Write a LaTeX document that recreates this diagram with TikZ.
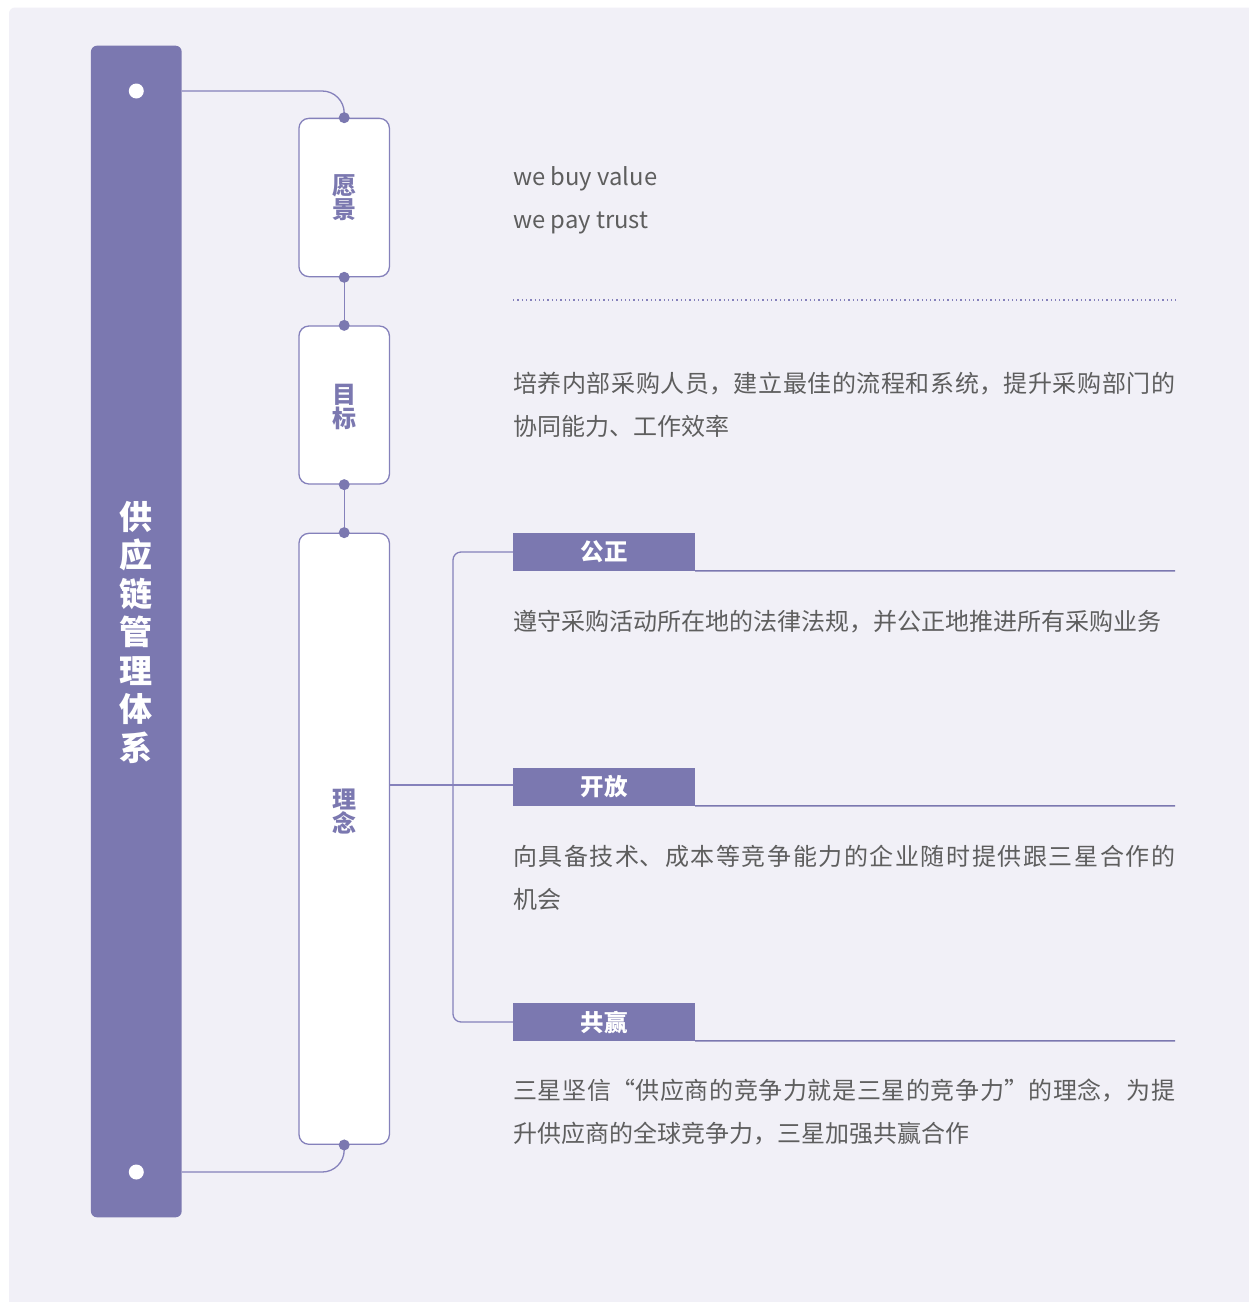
\documentclass[tikz,border=0pt]{standalone}
\usepackage{fontspec}
\setmainfont{Noto Sans CJK SC}
\XeTeXlinebreaklocale "zh"
\XeTeXlinebreakskip=0pt plus 10pt
\definecolor{bgl}{HTML}{F1F0F7}
\definecolor{pur}{HTML}{7B78B0}
\definecolor{lnk}{HTML}{8581BB}
\definecolor{txt}{HTML}{5E5E5E}
\begin{document}
\begin{tikzpicture}[x=1pt,y=-1pt,
  conn/.style={draw=lnk, line width=1.3pt},
  pbox/.style={draw=lnk, line width=1.3pt, fill=white, rounded corners=10pt, minimum width=90.5pt, inner sep=0pt},
  pdot/.style={circle, fill=pur, minimum size=11pt, inner sep=0pt},
  wdot/.style={circle, fill=white, minimum size=15pt, inner sep=0pt},
  tabbox/.style={fill=pur, minimum width=182pt, minimum height=37.5pt, inner sep=0pt, text=white, font=\bfseries\fontsize{23.5pt}{23.5pt}\selectfont},
  tabline/.style={draw=pur, line width=1.5pt},
  para/.style={text=txt, text width=662pt, align=justify, inner sep=0pt, font=\fontsize{24pt}{43pt}\selectfont},
  entext/.style={text=txt, inner sep=0pt, font=\fontsize{23.8pt}{43pt}\selectfont},
  boxlab/.style={text=pur, align=center, inner sep=0pt, font=\bfseries\fontsize{24pt}{24pt}\selectfont}
]
\useasboundingbox (0,0) rectangle (1249,1302);
\fill[white] (0,0) rectangle (1249,1302);
\fill[bgl] (1249,1302) -- (9,1302) [rounded corners=6pt] -- (9,7.5) [sharp corners] -- (1249,7.5) -- cycle;

% left bar
\node[fill=pur, rounded corners=6pt, minimum width=90.7pt, minimum height=1171.6pt, inner sep=0pt] (bar) at (136.3,631.5) {};
\node[text=white, align=center, inner sep=0pt, font=\bfseries\fontsize{33pt}{38.5pt}\selectfont] (title) at (136.3,632) {供\\应\\链\\管\\理\\体\\系};
\node[wdot] (d1) at (136.3,91) {};
\node[wdot] (d2) at (136.3,1172) {};

% boxes
\node[pbox, minimum height=158.3pt] (box1) at (344.2,197.5) {};
\node[pbox, minimum height=158pt] (box2) at (344.2,405) {};
\node[pbox, minimum height=611pt] (box3) at (344.2,838.8) {};
\node[boxlab] (l1) at (box1.center) {愿\\景};
\node[boxlab] (l2) at (344.2,406.5) {目\\标};
\node[boxlab] (l3) at (344.2,812) {理\\念};

% tabs
\node[tabbox] (t1) at (604,552) {公正};
\node[tabbox] (t2) at (604,787) {开放};
\node[tabbox] (t3) at (604,1022) {共赢};

% connectors
\coordinate (fork) at (453,785);
\draw[conn, rounded corners=22pt] (d1 -| bar.east) -| (box1.north);
\draw[conn] (box1.south) -- (box2.north);
\draw[conn] (box2.south) -- (box3.north);
\draw[conn, rounded corners=22pt] (box3.south) |- (d2 -| bar.east);
\draw[conn] (box3.east |- fork) -- (t2.west |- fork);
\draw[conn, rounded corners=8pt] (t1.west) -- (fork |- t1.west) -- (fork |- t3.west) -- (t3.west);

\node[pdot] (p1) at (box1.north) {};
\node[pdot] (p2) at (box1.south) {};
\node[pdot] (p3) at (box2.north) {};
\node[pdot] (p4) at (box2.south) {};
\node[pdot] (p5) at (box3.north) {};
\node[pdot] (p6) at (box3.south) {};

% tab lines
\coordinate (e1) at (1175,570.75);
\coordinate (e2) at (1175,805.75);
\coordinate (e3) at (1175,1040.75);
\draw[tabline] (t1.south east) -- (e1);
\draw[tabline] (t2.south east) -- (e2);
\draw[tabline] (t3.south east) -- (e3);

% separator
\coordinate (s1) at (513,300);
\coordinate (s2) at (1176,300);
\draw[draw=lnk, line width=1.3pt, dash pattern=on 1.3pt off 3pt] (s1) -- (s2);

% texts
\node[entext, anchor=base west] (v1) at (513,185) {we buy value};
\node[entext, anchor=base west] (v2) at (513,228) {we pay trust};
\node[para, anchor=base west] (g1) at (513,392) {培养内部采购人员，建立最佳的流程和系统，提升采购部门的\linebreak 协同能力、工作效率};
\node[para, anchor=base west] (g2) at (513,630) {遵守采购活动所在地的法律法规，并公正地推进所有采购业务};
\node[para, anchor=base west] (g3) at (513,865) {向具备技术、成本等竞争能力的企业随时提供跟三星合作的\linebreak 机会};
\node[para, anchor=base west] (g4) at (513,1099) {三星坚信“供应商的竞争力就是三星的竞争力”的理念，为提\linebreak 升供应商的全球竞争力，三星加强共赢合作};
\end{tikzpicture}
\end{document}
